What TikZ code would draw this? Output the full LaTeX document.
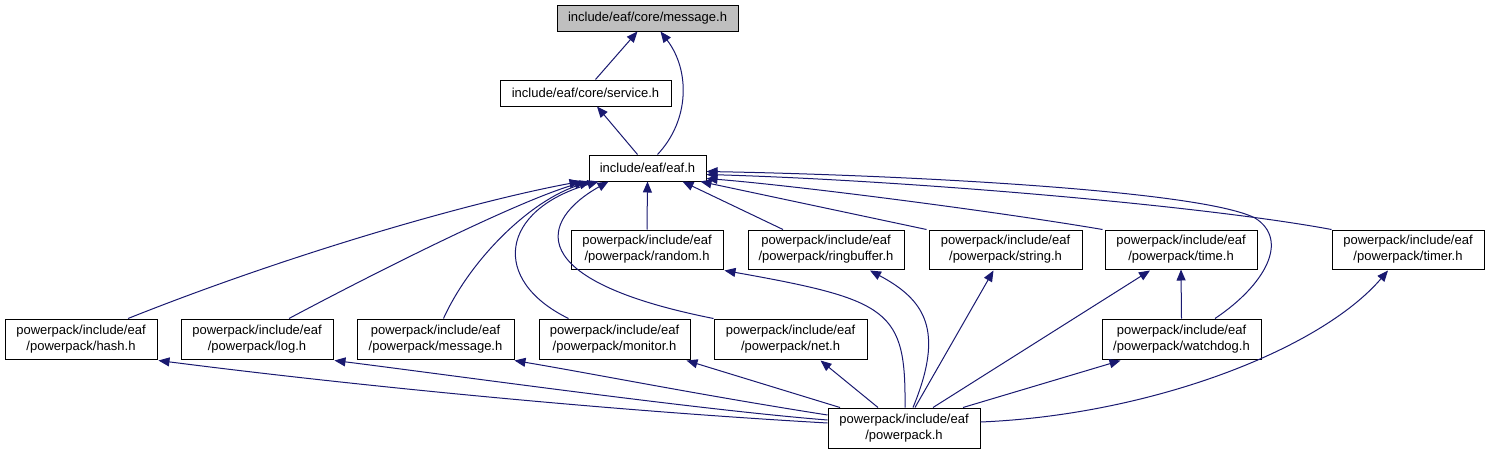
\documentclass[tikz,border=0pt]{standalone}
\usepackage{fontspec}
\setmainfont{Liberation Sans}
\usetikzlibrary{arrows.meta,calc}
\definecolor{edgeblue}{RGB}{25,25,112}
\definecolor{boxgray}{RGB}{191,191,191}
\newcommand\boxfont{\fontsize{13}{16}\selectfont}
\tikzset{
  box/.style={draw=black, line width=1pt, fill=white, inner sep=0pt, align=center, font=\boxfont},
  graybox/.style={box, fill=boxgray},
  edge/.style={draw=edgeblue, line width=1pt, -{Triangle[length=11pt,width=9pt]}}
}
\begin{document}
\begin{tikzpicture}[x=1pt,y=-1pt]
\useasboundingbox (0,0) rectangle (1489,455);
% nodes
\node[graybox, minimum width=181pt, minimum height=26pt] (msg) at (647.5,18) {include/eaf/core/message.h};
\node[box, minimum width=171pt, minimum height=26pt] (svc) at (585.5,93) {include/eaf/core/service.h};
\node[box, minimum width=117pt, minimum height=26pt] (eaf) at (647.5,168) {include/eaf/eaf.h};
\node[box, minimum width=152pt, minimum height=39pt] (random) at (647,249.5) {powerpack/include/eaf\\/powerpack/random.h};
\node[box, minimum width=156pt, minimum height=39pt] (ring) at (826,249.5) {powerpack/include/eaf\\/powerpack/ringbuffer.h};
\node[box, minimum width=153pt, minimum height=39pt] (string) at (1005.5,249.5) {powerpack/include/eaf\\/powerpack/string.h};
\node[box, minimum width=152pt, minimum height=39pt] (time) at (1181,249.5) {powerpack/include/eaf\\/powerpack/time.h};
\node[box, minimum width=152pt, minimum height=39pt] (timer) at (1408,249.5) {powerpack/include/eaf\\/powerpack/timer.h};
\node[box, minimum width=152pt, minimum height=40pt] (hash) at (81,339) {powerpack/include/eaf\\/powerpack/hash.h};
\node[box, minimum width=152pt, minimum height=40pt] (log) at (257,339) {powerpack/include/eaf\\/powerpack/log.h};
\node[box, minimum width=157pt, minimum height=40pt] (pmsg) at (435.5,339) {powerpack/include/eaf\\/powerpack/message.h};
\node[box, minimum width=151pt, minimum height=40pt] (monitor) at (614.5,339) {powerpack/include/eaf\\/powerpack/monitor.h};
\node[box, minimum width=153pt, minimum height=40pt] (net) at (790.5,339) {powerpack/include/eaf\\/powerpack/net.h};
\node[box, minimum width=159pt, minimum height=40pt] (wd) at (1181.5,339) {powerpack/include/eaf\\/powerpack/watchdog.h};
\node[box, minimum width=152pt, minimum height=40pt] (pp) at (904,428) {powerpack/include/eaf\\/powerpack.h};
% top edges
\draw[edge] ($(svc.north)+(10,0)$) -- ($(msg.south)+(-10,0)$);
\draw[edge] ($(eaf.north)+(10,0)$) .. controls (690,120) and (690,70) .. ($(msg.south)+(13,0)$);
\draw[edge] ($(eaf.north)+(-10,0)$) -- ($(svc.south)+(11.5,0)$);
% edges to eaf
\draw[edge] ($(hash.north)+(47,0)$) .. controls (300,250) and (480,200) .. ($(eaf.south)+(-67,0)$);
\draw[edge] ($(log.north)+(32,0)$) .. controls (380,270) and (520,200) .. ($(eaf.south)+(-62,0)$);
\draw[edge] ($(pmsg.north)+(8,0)$) .. controls (470,260) and (530,200) .. ($(eaf.south)+(-57,0)$);
\draw[edge] ($(monitor.north)+(-46,0)$) .. controls (490,280) and (500,210) .. ($(eaf.south)+(-49,0)$);
\draw[edge] (net.north west) .. controls (520,280) and (540,220) .. ($(eaf.south)+(-39,0)$);
\draw[edge] (random.north) -- (eaf.south);
\draw[edge] ($(ring.north)+(-43,0)$) -- ($(eaf.south)+(35,0)$);
\draw[edge] ($(string.north west)+(-2,0)$) -- ($(eaf.south)+(53,0)$);
\draw[edge] ($(time.north west)+(-2,0)$) .. controls (1000,212) and (800,186) .. ($(eaf.south east)+(0,-3)$);
\draw[edge] (timer.north west) .. controls (1200,205) and (900,180) .. ($(eaf.south east)+(0,-7)$);
\draw[edge] ($(wd.north)+(33.5,0)$) .. controls (1265,285) and (1290,240) .. (1255,218)
  .. controls (1200,190) and (900,175) .. ($(eaf.south east)+(0,-10)$);
% edges from powerpack.h
\draw[edge] ($(pp.west)+(0,-5)$) .. controls (600,410) and (350,385) .. ($(hash.south east)+(1,1)$);
\draw[edge] ($(pp.west)+(0,-8)$) .. controls (700,410) and (450,375) .. ($(log.south east)+(1,1)$);
\draw[edge] ($(pp.west)+(0,-13)$) .. controls (700,395) and (600,375) .. ($(pmsg.south east)+(0,1)$);
\draw[edge] ($(pp.north)+(-64,0)$) -- ($(monitor.south)+(72,1)$);
\draw[edge] ($(pp.north)+(-26,0)$) -- ($(net.south)+(30,1)$);
\draw[edge] ($(pp.north)+(1,0)$) .. controls (906,310) and (890,300) .. ($(random.south east)+(1,1)$);
\draw[edge] ($(pp.north)+(9,0)$) .. controls (945,330) and (925,300) .. ($(ring.south)+(44,1)$);
\draw[edge] ($(pp.north)+(11,0)$) -- ($(string.south)+(-12,1)$);
\draw[edge] ($(pp.north)+(29,0)$) -- ($(time.south)+(-31,1)$);
\draw[edge] ($(pp.north)+(59,0)$) -- ($(wd.south)+(-61,1)$);
\draw[edge] ($(pp.east)+(0,-6)$) .. controls (1150,415) and (1320,350) .. ($(timer.south)+(-20,1)$);
\draw[edge] (wd.north) -- (time.south);
\end{tikzpicture}
\end{document}
